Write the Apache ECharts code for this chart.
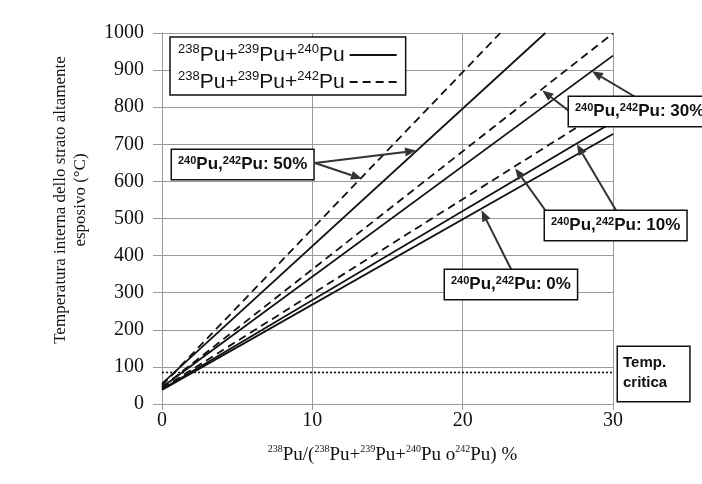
<!DOCTYPE html>
<html>
<head>
<meta charset="utf-8">
<script src="https://cdn.jsdelivr.net/npm/echarts@6/dist/echarts.min.js"></script>
<style>
html, body { margin: 0; background: #fff; }
#main { width: 702px; height: 484px; }
</style>
</head>
<body>
<div id="main"></div>
<script>
// valori: [238Pu %, temperatura °C]
let xTicks = [0, 10, 20, 30];
let tCritica = [[0, 85], [30, 85]];
let s0 = [[0, 38], [30, 728]];
let s10 = [[0, 40], [30, 760]];
let d10 = [[0, 42], [30, 807]];
let s30 = [[0, 45], [30, 939]];
let d30 = [[0, 45], [30, 999]];
let s50 = [[0, 55], [25.5, 1000]];
let d50 = [[0, 50], [22.5, 1000]];

const SOLID = '238Pu+239Pu+240Pu';
const DASHED = '238Pu+239Pu+242Pu';
const INK = '#111';
const GRID = '#9a9a9a';

function sup(str) {
    return str.replace(/(\d{3})/g, '{s|$1}');
}

function serie(name, data, dashed) {
    return {
        name: name,
        type: 'line',
        data: data,
        symbol: 'none',
        silent: true,
        lineStyle: { color: INK, width: 1.8, type: dashed ? [8, 5] : 'solid' },
        itemStyle: { color: INK }
    };
}

let myChart = echarts.init(document.getElementById('main'));

let option = {
    animation: false,
    backgroundColor: '#fff',
    grid: { left: 162, right: 89, top: 33, bottom: 80 },
    legend: {
        data: [SOLID, DASHED],
        orient: 'vertical',
        left: 170,
        top: 37,
        align: 'right',
        itemWidth: 47,
        itemHeight: 14,
        itemGap: 3,
        padding: [6, 8, 1, 8],
        backgroundColor: '#fff',
        borderColor: INK,
        borderWidth: 1.5,
        itemStyle: { opacity: 0 },
        formatter: function (name) { return sup(name); },
        textStyle: {
            fontFamily: 'Liberation Sans',
            fontSize: 21,
            color: INK,
            lineHeight: 24,
            rich: { s: { fontSize: 13, lineHeight: 16, verticalAlign: 'top', fontFamily: 'Liberation Sans', color: INK } }
        }
    },
    xAxis: {
        type: 'value',
        min: 0,
        max: 30,
        interval: 10,
        name: '{s|238}Pu/({s|238}Pu+{s|239}Pu+{s|240}Pu o{s|242}Pu) %',
        nameLocation: 'middle',
        nameGap: 40,
        nameTextStyle: {
            fontFamily: 'Liberation Serif', fontSize: 19, color: INK, lineHeight: 22, padding: [0, 0, 0, 10],
            rich: { s: { fontSize: 10, lineHeight: 12, verticalAlign: 'top', fontFamily: 'Liberation Serif', color: INK } }
        },
        axisLine: { lineStyle: { color: GRID, width: 1 } },
        axisTick: { show: true, length: 6, lineStyle: { color: GRID } },
        axisLabel: {
            margin: 7, fontFamily: 'Liberation Serif', fontSize: 20, color: INK,
            customValues: xTicks
        },
        splitLine: { show: true, lineStyle: { color: GRID, width: 1 } }
    },
    yAxis: {
        type: 'value',
        min: 0,
        max: 1000,
        interval: 100,
        axisLine: { show: true, lineStyle: { color: GRID, width: 1 } },
        axisTick: { show: true, length: 9, lineStyle: { color: GRID } },
        axisLabel: {
            margin: 18, fontFamily: 'Liberation Serif', fontSize: 20, color: INK,
            formatter: function (v) { return String(v); }
        },
        splitLine: { show: true, lineStyle: { color: GRID, width: 1 } }
    },
    series: [
        serie(SOLID, s0, false),
        serie(SOLID, s10, false),
        serie(DASHED, d10, true),
        serie(SOLID, s30, false),
        serie(DASHED, d30, true),
        serie(SOLID, s50, false),
        serie(DASHED, d50, true),
        {
            name: 'Temp. critica',
            type: 'line',
            data: tCritica,
            symbol: 'none',
            silent: true,
            lineStyle: { color: INK, width: 1.6, type: [2, 2] }
        }
    ]
};
myChart.setOption(option);

// annotazioni: riquadri (pixel) e frecce verso punti delle curve (dati)
let boxStyle = {
    fontFamily: 'Liberation Sans', fontSize: 17, fontWeight: 'bold', fill: INK,
    lineHeight: 19, backgroundColor: '#fff', borderColor: INK, borderWidth: 1.5,
    padding: [5, 6],
    rich: { s: { fontSize: 11, fontWeight: 'bold', lineHeight: 12, verticalAlign: 'top', fontFamily: 'Liberation Sans', fill: INK } }
};

function box(text, x, y) {
    return { type: 'text', x: x, y: y, z: 100, style: Object.assign({ text: text }, boxStyle) };
}

function arrow(p0, tip) {
    let p1 = myChart.convertToPixel({ gridIndex: 0 }, tip);
    let dx = p1[0] - p0[0], dy = p1[1] - p0[1], len = Math.hypot(dx, dy);
    let ux = dx / len, uy = dy / len, hl = 11, hw = 4.5;
    let bx = p1[0] - ux * hl, by = p1[1] - uy * hl;
    return [
        { type: 'line', z: 90, shape: { x1: p0[0], y1: p0[1], x2: bx, y2: by }, style: { stroke: '#333', lineWidth: 2 } },
        { type: 'polygon', z: 90, shape: { points: [p1, [bx - uy * hw, by + ux * hw], [bx + uy * hw, by - ux * hw]] }, style: { fill: '#333' } }
    ];
}

let graphic = [].concat(
    arrow([315, 163], [16.9, 683]),
    arrow([315, 163], [13.3, 607]),
    arrow([569, 111], [25.3, 845]),
    arrow([637, 98], [28.6, 897]),
    arrow([548, 214], [23.5, 635]),
    arrow([617, 212], [27.6, 700]),
    arrow([512, 271], [21.25, 522]),
    [
        box('{s|240}Pu,{s|242}Pu: 50%', 172, 150),
        box('{s|240}Pu,{s|242}Pu: 30%', 569, 97),
        box('{s|240}Pu,{s|242}Pu: 10%', 545, 211),
        box('{s|240}Pu,{s|242}Pu: 0%', 445, 270),
        {
            type: 'text', x: 618, y: 347, z: 100,
            style: Object.assign({}, boxStyle, { text: 'Temp.\ncritica', fontSize: 15, lineHeight: 20, padding: [6, 22, 8, 5] })
        },
        {
            type: 'text', x: 71, y: 200, rotation: Math.PI / 2, z: 100,
            style: {
                text: 'Temperatura interna dello strato altamente\nesposivo (°C)',
                fontFamily: 'Liberation Serif', fontSize: 17, lineHeight: 20, fill: INK,
                textAlign: 'center', textVerticalAlign: 'middle'
            }
        }
    ]
);
myChart.setOption({ graphic: graphic });

window.addEventListener('resize', function () { myChart.resize(); });
</script>
</body>
</html>
